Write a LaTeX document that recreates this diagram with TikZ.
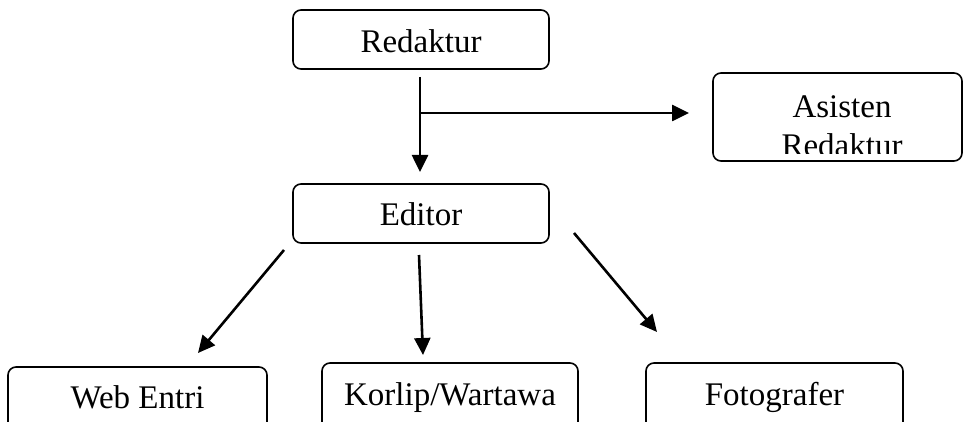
\documentclass[tikz,border=0pt]{standalone}
\usepackage{fontspec}
\setmainfont{Liberation Serif}
\usetikzlibrary{arrows.meta}
\tikzset{
  box/.style={draw, line width=1.6pt, rounded corners=8pt, inner sep=0pt, fill=white},
  lbl/.style={font=\fontsize{33}{37}\selectfont, inner sep=0pt, anchor=base},
  conn/.style={line width=2.6pt, -{Triangle[length=17pt,width=16pt]}}
}
\begin{document}
\begin{tikzpicture}[x=1pt,y=-1pt]
\useasboundingbox (0,0) rectangle (963,422);
\clip (0,0) rectangle (963,422);
% boxes
\node[box, minimum width=256pt, minimum height=59pt] (red) at (421,39.5) {};
\node[lbl] (redt) at (421,53) {Redaktur};
\node[box, minimum width=249pt, minimum height=88pt] (asi) at (837.5,117) {};
\begin{scope}
  \clip (715,75) rectangle (960,154);
  \node[lbl] (asit1) at (842,118) {Asisten};
  \node[lbl] (asit2) at (842,157) {Redaktur};
\end{scope}
\node[box, minimum width=256pt, minimum height=59pt] (edi) at (421,213.5) {};
\node[lbl] (edit) at (421,225) {Editor};
\node[box, minimum width=259pt, minimum height=70pt] (web) at (137.5,402) {};
\node[lbl] (webt) at (137.5,408) {Web Entri};
\node[box, minimum width=256pt, minimum height=74pt] (kor) at (450,400) {};
\node[lbl] (kort) at (450,405) {Korlip/Wartawa};
\node[box, minimum width=257pt, minimum height=74pt] (fot) at (774.5,400) {};
\node[lbl] (fott) at (774.5,405) {Fotografer};
% connector points
\coordinate (r0) at (420,77);
\coordinate (r1) at (420,172);
\coordinate (b0) at (420,113);
\coordinate (b1) at (689,113);
\coordinate (w0) at (284,250);
\coordinate (w1) at (198,353);
\coordinate (k0) at (419,255);
\coordinate (k1) at (423,355);
\coordinate (f0) at (574,233);
\coordinate (f1) at (657,332);
% connectors
\draw[conn] (r0) -- (r1);
\draw[conn] (b0) -- (b1);
\draw[conn] (w0) -- (w1);
\draw[conn] (k0) -- (k1);
\draw[conn] (f0) -- (f1);
\end{tikzpicture}
\end{document}
